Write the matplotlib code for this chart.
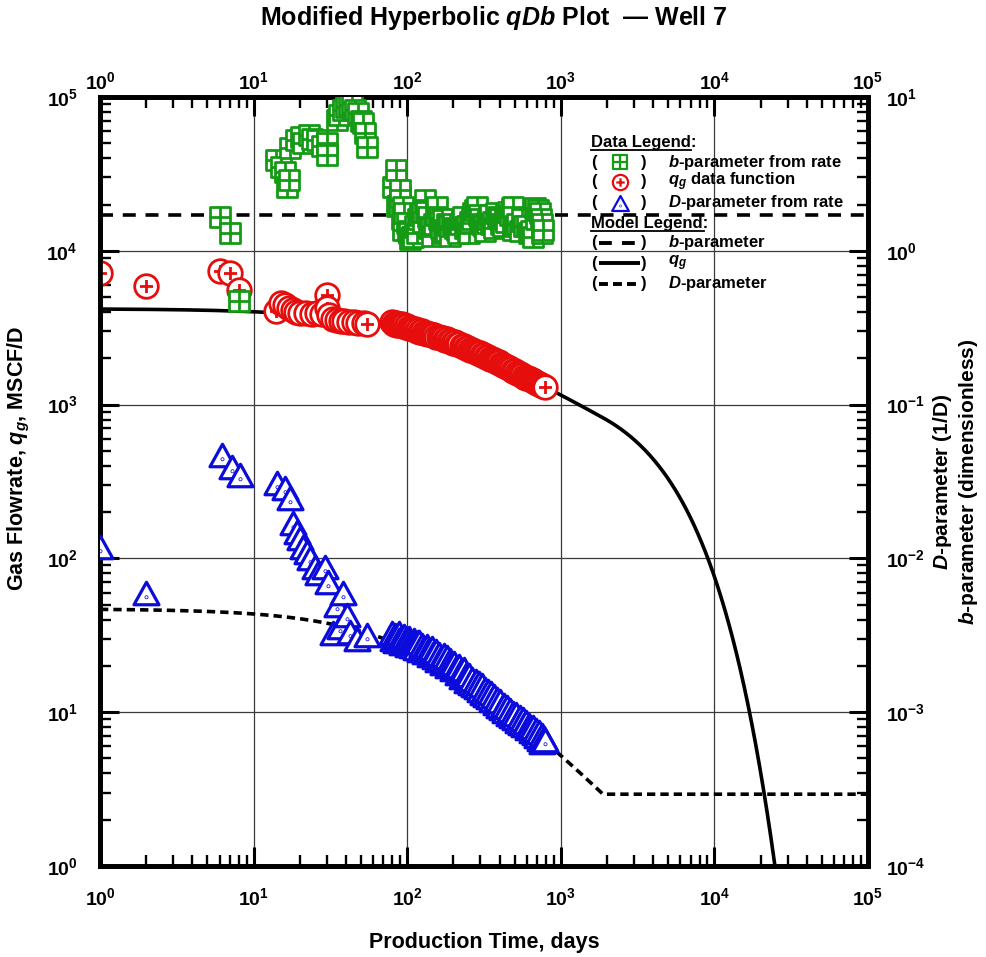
import numpy as np
import matplotlib
matplotlib.use("Agg")
import matplotlib.pyplot as plt
from matplotlib.path import Path
from matplotlib.ticker import LogLocator, FuncFormatter, NullFormatter

plt.rcParams['font.family'] = ['Liberation Sans', 'DejaVu Sans']
plt.rcParams['font.weight'] = 'bold'
plt.rcParams['mathtext.fontset'] = 'custom'
plt.rcParams['mathtext.rm'] = 'Liberation Sans:bold'
plt.rcParams['mathtext.bf'] = 'Liberation Sans:bold'
plt.rcParams['mathtext.it'] = 'Liberation Sans:italic:bold'

# gas rate data (days, MSCF/D)
t_rate = [1, 2, 6, 7, 8, 14, 15, 16, 17, 18, 19, 20, 22, 24, 26, 28, 30, 30, 31, 33,
          35, 37, 39, 42, 45, 48, 52, 55,
          80, 82, 84, 86, 88, 90, 92, 94, 96, 98, 100, 103, 106, 109, 112, 115, 118,
          121, 125, 129, 133, 137, 141, 145, 150, 155, 160, 165, 170, 175, 181, 187,
          193, 199, 205, 212, 219, 226, 233, 240, 248, 256, 264, 272, 280, 289, 298,
          307, 316, 325, 335, 345, 355, 365, 376, 387, 398, 410, 422, 434, 447, 460,
          473, 487, 501, 515, 530, 545, 561, 577, 594, 611, 629, 647, 665, 684, 703,
          723, 744, 765, 790]
q_rate = [7200, 5900, 7350, 7150, 5550, 4050, 4600, 4450, 4250, 4100, 4000, 3950, 3950,
          3900, 3950, 3900, 5150, 4250, 3850, 3600, 3550, 3520, 3500, 3450, 3430, 3400,
          3380, 3320,
          3420, 3350, 3400, 3300, 3360, 3280, 3320, 3230, 3270, 3200, 3230, 3130, 3170,
          3080, 3100, 3020, 3050, 2970, 2990, 2920, 2940, 2860, 2880, 2820, 2830, 2760,
          2770, 2700, 2710, 2650, 2660, 2590, 2600, 2530, 2540, 2470, 2480, 2410, 2400,
          2340, 2340, 2280, 2270, 2220, 2210, 2160, 2150, 2100, 2090, 2040, 2040, 1990,
          1990, 1940, 1930, 1890, 1900, 1840, 1820, 1780, 1760, 1720, 1700, 1660, 1650,
          1610, 1600, 1570, 1560, 1520, 1500, 1480, 1460, 1440, 1420, 1400, 1380, 1360,
          1340, 1320, 1300]

# b-parameter from rate (dimensionless)
t_b = [6, 7, 8, 14, 15, 16, 16.5, 17, 17.3, 19, 20.5, 21, 23, 24, 26, 28, 30, 30,
       34.7, 36, 38, 40, 42, 44, 46, 47.5, 50, 51.5, 53, 54.5,
       81, 85, 86, 88, 90, 90, 92, 94, 94, 96, 99, 101, 103, 105, 107, 109, 112, 115,
       118, 121, 124, 127, 130, 133, 136, 139, 142, 146, 150, 153, 156, 160, 163, 166,
       170, 174, 178, 182, 186, 190, 195, 200, 205, 210, 215, 220, 226, 232, 238, 245,
       251, 258, 264, 270, 278, 285, 292, 300, 308, 315, 322, 330, 338, 345, 352, 360,
       370, 380, 390, 400, 410, 420, 430, 440, 452, 465, 478, 490, 490, 505, 520, 540,
       560, 580, 600, 620, 640, 660, 675, 690, 710, 730, 740, 750, 760, 770]
b_rate = [1.65, 1.30, 0.47, 3.9, 3.5, 3.25, 2.6, 2.9, 4.66, 5.25, 5.5, 5.0, 5.66, 5.3,
          5.25, 4.8, 5.0, 4.2, 7.1, 7.6, 8.2, 8.6, 8.9, 9.1, 8.2, 7.9, 7.0, 6.8, 5.8, 4.75,
          2.6, 3.35, 1.97, 2.0, 2.25, 2.49, 1.6, 1.93, 1.37, 1.77, 1.52, 1.35, 1.3, 1.2,
          1.23, 1.23, 1.45, 1.3, 1.6, 1.7, 1.75, 1.55, 2.14, 1.8, 1.65, 1.4, 1.4, 1.25,
          1.5, 1.7, 1.93, 1.6, 1.55, 1.4, 1.58, 1.3, 1.35, 1.5, 1.45, 1.25, 1.6, 1.5, 1.4,
          1.37, 1.3, 1.5, 1.6, 1.65, 1.4, 1.45, 1.3, 1.55, 1.6, 1.75, 1.85, 1.93, 1.7,
          1.6, 1.5, 1.45, 1.35, 1.52, 1.6, 1.7, 1.5, 1.55, 1.4, 1.77, 1.65, 1.6, 1.5,
          1.45, 1.6, 1.55, 1.8, 1.7, 1.9, 1.93, 1.37, 1.45, 1.5, 1.35, 1.6, 1.45, 1.45,
          1.3, 1.35, 1.23, 1.9, 1.6, 1.85, 1.77, 1.6, 1.5, 1.3, 1.37]

# D-parameter from rate (1/D)
t_D = [1, 2, 6.2, 7.2, 8.2, 14.1, 16, 17.3, 18.1, 19.1, 20, 21, 22.3, 23.2, 25, 26.2,
       29.2, 30.5, 32.8, 34.8, 36.4, 38.2, 40.5, 42.3, 47, 54.5,
       80, 81, 83, 85, 86, 88, 89, 91, 93, 95, 97, 99, 101, 103, 105, 107, 110, 112,
       114, 117, 120, 122, 125, 128, 131, 134, 137, 140, 144, 147, 151, 155, 158, 162,
       166, 170, 174, 178, 181, 185, 189, 194, 198, 203, 208, 213, 218, 223, 228, 234,
       240, 246, 248, 254, 260, 266, 272, 279, 286, 293, 300, 306, 312, 319, 326, 334,
       342, 350, 358, 367, 376, 385, 394, 404, 414, 424, 435, 446, 457, 468, 480, 490,
       502, 514, 527, 540, 553, 566, 580, 594, 608, 622, 630, 645, 660, 675, 690, 705,
       720, 735, 750, 760, 775, 790]
D_rate = [0.0119, 0.0060, 0.047, 0.0395, 0.0348, 0.0308, 0.0287, 0.0247, 0.0170, 0.0149,
          0.0136, 0.0119, 0.0110, 0.0100, 0.0088, 0.0080, 0.0088, 0.0070, 0.00327, 0.0050,
          0.0036, 0.0060, 0.0043, 0.0033, 0.0030, 0.00318,
          3.27e-3, 3.0e-3, 3.2e-3, 2.9e-3, 3.1e-3, 3.25e-3, 2.95e-3, 3.05e-3, 2.8e-3,
          3.15e-3, 2.9e-3, 3.0e-3, 2.75e-3, 3.05e-3, 2.85e-3, 2.7e-3, 2.95e-3, 2.8e-3,
          2.6e-3, 2.85e-3, 2.86e-3, 2.55e-3, 2.75e-3, 2.6e-3, 2.45e-3, 2.7e-3, 2.5e-3,
          2.35e-3, 2.6e-3, 2.4e-3, 2.3e-3, 2.5e-3, 2.2e-3, 2.4e-3, 2.25e-3, 2.1e-3,
          2.35e-3, 2.15e-3, 2.29e-3, 2.0e-3, 2.2e-3, 2.05e-3, 1.9e-3, 2.1e-3, 1.95e-3,
          1.8e-3, 2.0e-3, 1.85e-3, 1.7e-3, 1.9e-3, 1.75e-3, 1.6e-3, 1.67e-3, 1.75e-3,
          1.55e-3, 1.65e-3, 1.5e-3, 1.6e-3, 1.45e-3, 1.55e-3, 1.4e-3, 1.5e-3, 1.33e-3,
          1.42e-3, 1.3e-3, 1.38e-3, 1.25e-3, 1.33e-3, 1.2e-3, 1.28e-3, 1.15e-3, 1.22e-3,
          1.1e-3, 1.18e-3, 1.06e-3, 1.12e-3, 1.02e-3, 1.08e-3, 0.98e-3, 1.04e-3, 0.95e-3,
          0.99e-3, 0.92e-3, 0.97e-3, 0.88e-3, 0.93e-3, 0.85e-3, 0.9e-3, 0.82e-3, 0.86e-3,
          0.79e-3, 0.83e-3, 0.8e-3, 0.76e-3, 0.8e-3, 0.73e-3, 0.77e-3, 0.7e-3, 0.74e-3,
          0.67e-3, 0.71e-3, 0.64e-3, 0.68e-3, 0.66e-3]

# modified hyperbolic model parameters
qi = 4200.0
Di = 4.7e-3
b_model = 1.7
D_lim = 2.93e-4

t_mod = np.logspace(0, 5, 800)
t_lim = (Di / D_lim - 1) / (b_model * Di)
q_lim = qi * (1 + b_model * Di * t_lim) ** (-1 / b_model)
q_mod = np.where(t_mod < t_lim,
                 qi * (1 + b_model * Di * t_mod) ** (-1 / b_model),
                 q_lim * np.exp(-D_lim * (t_mod - t_lim)))
D_mod = np.maximum(Di / (1 + b_model * Di * t_mod), D_lim)
b_mod = np.full_like(t_mod, b_model)

# markers
M, L, C = Path.MOVETO, Path.LINETO, Path.CLOSEPOLY
sq_mark = Path([(-1, -1), (1, -1), (1, 1), (-1, 1), (-1, -1), (0, -1), (0, 1), (-1, 0), (1, 0)],
               [M, L, L, L, C, M, L, M, L])
circ_mark = Path.make_compound_path(
    Path.unit_circle(),
    Path([(-0.55, 0), (0.55, 0), (0, -0.55), (0, 0.55)], [M, L, M, L]))
tri_mark = Path.make_compound_path(
    Path([(0, 0.9), (-1, -0.9), (1, -0.9), (0, 0.9)], [M, L, L, C]),
    Path.circle((0, -0.3), 0.03))

green = '#159a15'
red = '#e60d0d'
blue = '#0b0bdc'

fig = plt.figure(figsize=(9.87, 9.57), dpi=100)
ax = fig.add_axes([100 / 987, 1 - 866 / 957, 768 / 987, 769 / 957])
ax2 = ax.twinx()

for a in (ax, ax2):
    a.set_xscale('log')
    a.set_yscale('log')
ax.set_xlim(1, 1e5)
ax.set_ylim(1, 1e5)
ax2.set_ylim(1e-4, 1e1)

# model curves
ax.plot(t_mod, q_mod, color='k', lw=2.6, zorder=2)
ax2.plot(t_mod, b_mod, color='k', lw=2.6, dashes=(3.6, 2.7), zorder=2)
ax2.plot(t_mod, D_mod, color='k', lw=2.6, dashes=(2.3, 1.4), zorder=2)

# data
ax2.plot(t_b, b_rate, ls='none', marker=sq_mark, ms=15, mfc='white', mec=green, mew=2.0, zorder=3)
ax.plot(t_rate, q_rate, ls='none', marker=circ_mark, ms=17, mfc='white', mec=red, mew=2.0, zorder=3)
ax2.plot(t_D, D_rate, ls='none', marker=tri_mark, ms=18, mfc='white', mec=blue, mew=2.3, zorder=4)

fmt = FuncFormatter(lambda v, p: r'$\mathbf{10^{%d}}$' % int(round(np.log10(v))))
for a in (ax, ax2):
    a.xaxis.set_major_locator(LogLocator(base=10, numticks=10))
    a.xaxis.set_minor_locator(LogLocator(base=10, subs=np.arange(2, 10), numticks=100))
    a.xaxis.set_major_formatter(fmt)
    a.xaxis.set_minor_formatter(NullFormatter())
    a.yaxis.set_major_locator(LogLocator(base=10, numticks=10))
    a.yaxis.set_minor_locator(LogLocator(base=10, subs=np.arange(2, 10), numticks=100))
    a.yaxis.set_major_formatter(fmt)
    a.yaxis.set_minor_formatter(NullFormatter())
    for s in a.spines.values():
        s.set_linewidth(3.4)

# left + bottom on ax, right + top on ax2
ax.tick_params(which='both', direction='in', top=False, labeltop=False, right=False)
ax.tick_params(which='major', length=14, width=2.2, labelsize=14)
ax.tick_params(which='minor', length=8, width=1.7)
ax.tick_params(axis='x', which='major', pad=15)
ax.tick_params(axis='y', which='major', pad=16)

ax2.xaxis.set_visible(True)
ax2.tick_params(which='both', direction='in', bottom=False, labelbottom=False,
                top=True, labeltop=True, left=False, labelleft=False)
ax2.tick_params(which='major', length=14, width=2.2, labelsize=14)
ax2.tick_params(which='minor', length=8, width=1.7)
ax2.tick_params(axis='x', which='major', pad=3)
ax2.tick_params(axis='y', which='major', pad=13)

ax.grid(True, which='major', color='#3a3a3a', lw=0.9)
ax.set_axisbelow(True)

ax.set_xlabel('Production Time, days', fontsize=15.5, fontweight='bold', labelpad=17)
ax.set_ylabel(r'Gas Flowrate, $\mathit{q_g}$, MSCF/D', fontsize=15.5, fontweight='bold')
ax.yaxis.set_label_coords(-0.088, (866 - 458) / 769)
ax2.set_ylabel('$\\mathit{D}$-parameter (1/D)\n$\\mathit{b}$-parameter (dimensionless)',
               fontsize=15, fontweight='bold', labelpad=4)

fig.text(0.5, 1 - 18 / 957, r'Modified Hyperbolic $\mathit{qDb}$ Plot  — Well 7',
         ha='center', va='center', fontsize=18, fontweight='bold')

# legend block
def ax_x(px):
    return (px - 100) / 768


def ax_y(py):
    return (866 - py) / 769


tr = ax.transAxes
fs = 12
rows = [143, 162.5, 182, 203, 224, 243, 263.5, 283.5]
ax.text(ax_x(591), ax_y(rows[0]), 'Data Legend:', transform=tr, fontsize=fs, va='center', ha='left')
ax.plot([ax_x(591), ax_x(691)], [ax_y(150.5), ax_y(150.5)], transform=tr, color='k', lw=1.3, clip_on=False)
ax.text(ax_x(591), ax_y(rows[4]), 'Model Legend:', transform=tr, fontsize=fs, va='center', ha='left')
ax.plot([ax_x(591), ax_x(704)], [ax_y(231.5), ax_y(231.5)], transform=tr, color='k', lw=1.3, clip_on=False)

data_entries = [
    (sq_mark, green, 10, r'$\mathit{b}$-parameter from rate'),
    (circ_mark, red, 11, r'$\mathit{q_g}$ data function'),
    (tri_mark, blue, 12, r'$\mathit{D}$-parameter from rate'),
]
for (mk, col, ms, lab), ry in zip(data_entries, rows[1:4]):
    ax.text(ax_x(591), ax_y(ry), '(', transform=tr, fontsize=fs, va='center', ha='left')
    ax.text(ax_x(647), ax_y(ry), ')', transform=tr, fontsize=fs, va='center', ha='right')
    ax2.plot([ax_x(620)], [ax_y(ry)], transform=tr, marker=mk, ms=ms, mfc='white', mec=col,
             mew=1.6, ls='none', clip_on=False, zorder=6)
    ax.text(ax_x(668), ax_y(ry), lab, transform=tr, fontsize=fs, va='center', ha='left')

model_entries = [
    ((3.3, 2.6), r'$\mathit{b}$-parameter'),
    (None, r'$\mathit{q_g}$'),
    ((2.3, 1.3), r'$\mathit{D}$-parameter'),
]
for (ds, lab), ry in zip(model_entries, rows[5:8]):
    ax.text(ax_x(591), ax_y(ry), '(', transform=tr, fontsize=fs, va='center', ha='left')
    ax.text(ax_x(647), ax_y(ry), ')', transform=tr, fontsize=fs, va='center', ha='right')
    ln, = ax.plot([ax_x(599), ax_x(640)], [ax_y(ry), ax_y(ry)], transform=tr, color='k',
                  lw=2.8, clip_on=False, solid_capstyle='butt')
    if ds is not None:
        ln.set_dashes(ds)
    ax.text(ax_x(668), ax_y(ry), lab, transform=tr, fontsize=fs, va='center', ha='left')

fig.savefig('out.png', dpi=100)
